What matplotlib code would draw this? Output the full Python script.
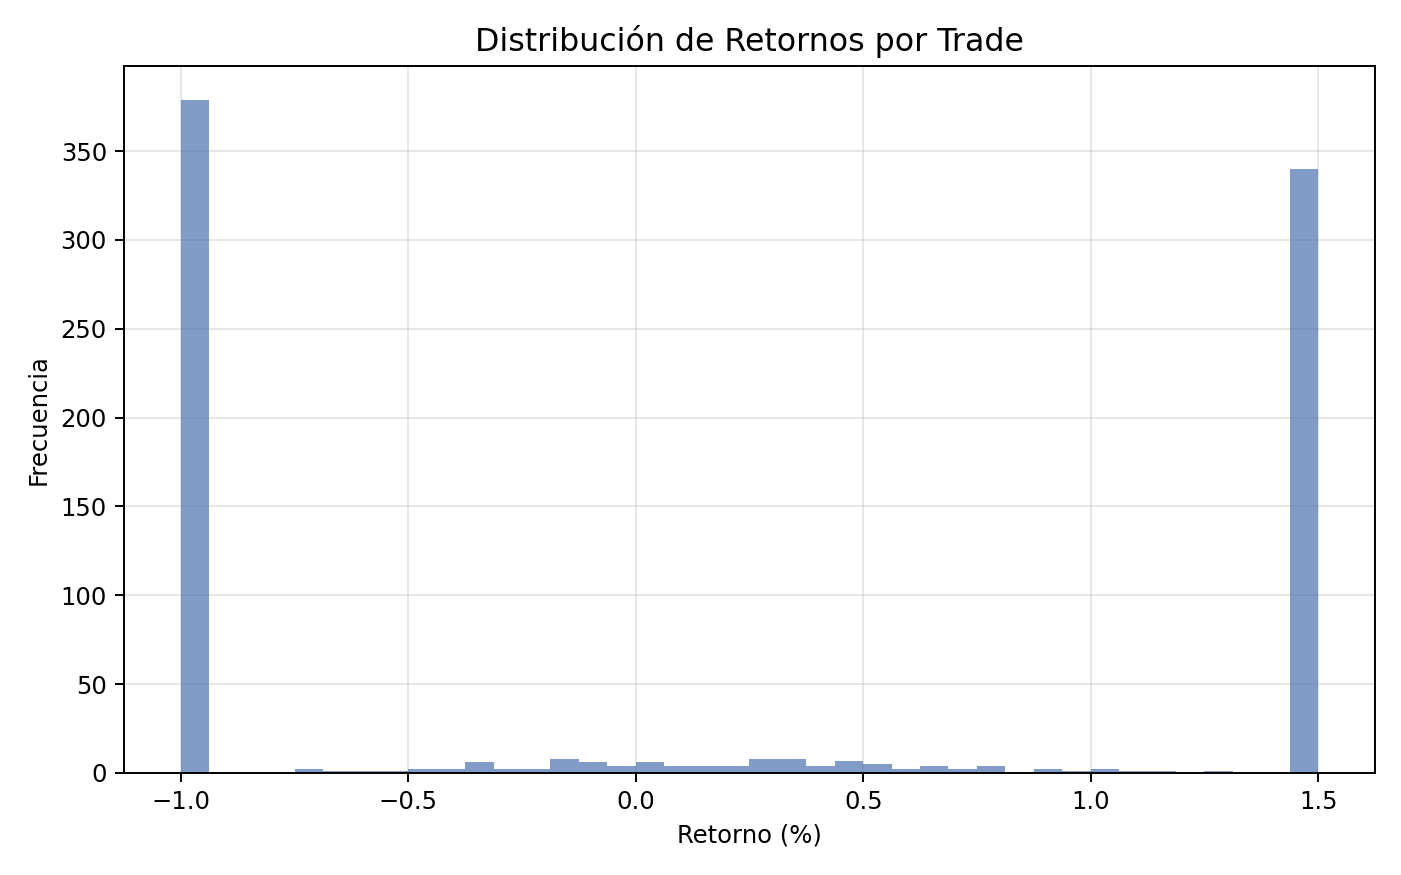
import numpy as np
import matplotlib
matplotlib.use("Agg")
import matplotlib.pyplot as plt

# Histograma: 40 bins entre -1.0 y 1.5
bin_edges = np.linspace(-1.0, 1.5, 41)
counts = [379, 0, 0, 0, 2, 1, 1, 1, 2, 2,
          6, 2, 2, 8, 6, 4, 6, 4, 4, 4,
          8, 8, 4, 7, 5, 2, 4, 2, 4, 0,
          2, 1, 2, 1, 1, 0, 1, 0, 0, 340]

titulo = "Distribución de Retornos por Trade"
etiqueta_x = "Retorno (%)"
etiqueta_y = "Frecuencia"

centros = (bin_edges[:-1] + bin_edges[1:]) / 2

DPI = 175
fig, ax = plt.subplots(figsize=(1401 / DPI, 875 / DPI), dpi=DPI)
fig.subplots_adjust(left=0.0885, right=0.9814, top=0.9246, bottom=0.1166)

ax.hist(centros, bins=bin_edges, weights=counts, color="#4C72B0", alpha=0.7)

ax.set_title(titulo, fontsize=13)
ax.set_xlabel(etiqueta_x)
ax.set_ylabel(etiqueta_y)
ax.grid(True, alpha=0.3)
ax.set_axisbelow(True)

fig.savefig("out.png", dpi=DPI)
